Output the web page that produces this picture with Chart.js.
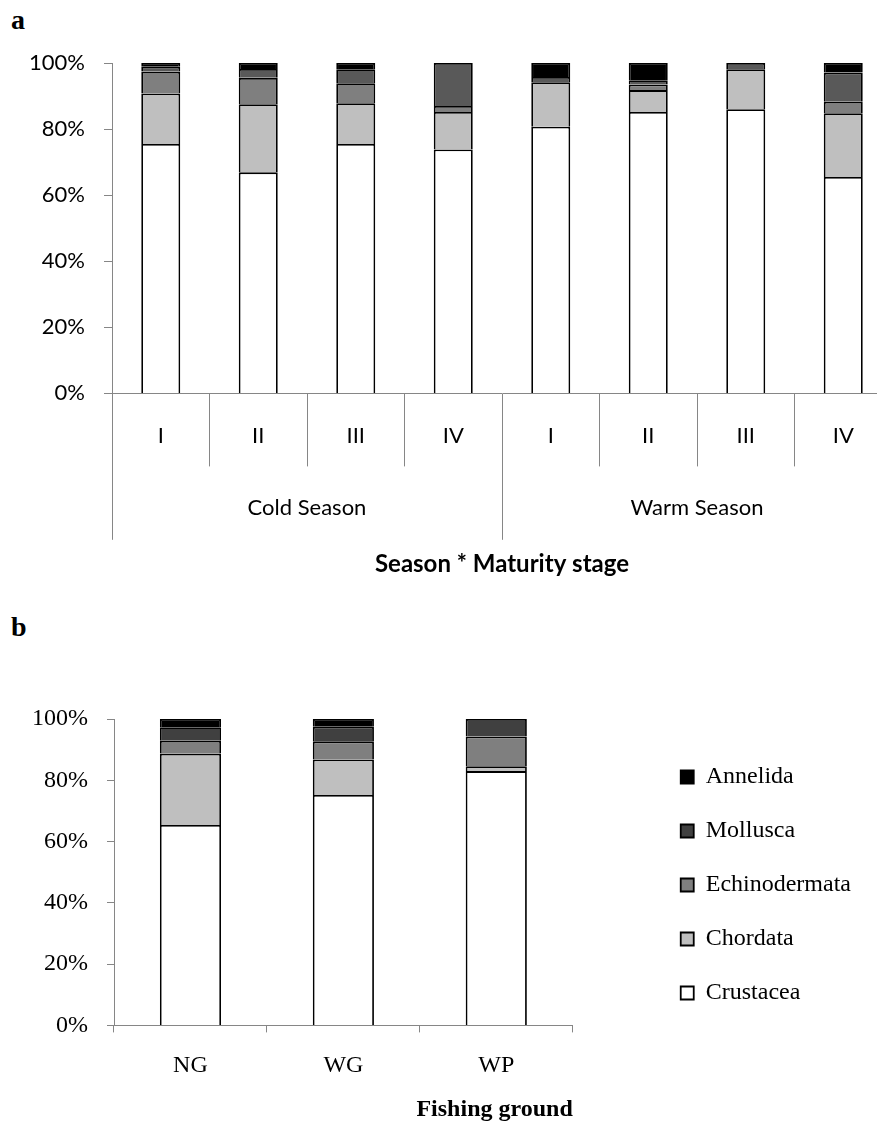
<!DOCTYPE html>
<html lang="en">
  <head>
    <meta charset="UTF-8" />
    <title>Diet composition</title>
    <script src="https://cdn.jsdelivr.net/npm/chart.js"></script>
    <style>
      body {
        margin: 0;
        width: 877px;
        height: 1124px;
        position: relative;
        overflow: hidden;
        background: #fff;
      }
      .panel-letter {
        position: absolute;
        left: 11px;
        font-family: 'Liberation Serif', serif;
        font-weight: bold;
        font-size: 28px;
        line-height: 1;
        color: #000;
      }
      #wrap-a {
        position: absolute;
        left: 0;
        top: 0;
        width: 877px;
        height: 594px;
        overflow: hidden;
      }
      #wrap-b {
        position: absolute;
        left: 0;
        top: 594px;
        width: 877px;
        height: 530px;
      }
    </style>
  </head>
  <body>
    <div class="panel-letter" style="top: 6px">a</div>
    <div id="wrap-a"><canvas id="chart-a" width="900" height="594"></canvas></div>
    <div class="panel-letter" style="top: 613px">b</div>
    <div id="wrap-b"><canvas id="chart-b" width="877" height="530"></canvas></div>
  </body>
  <script>
    // panel a: season * maturity stage (%)
    const stages = ['I', 'II', 'III', 'IV', 'I', 'II', 'III', 'IV']
    const seasons = ['Cold Season', 'Warm Season']
    const crustaceaA = [75.5, 66.9, 75.5, 73.8, 80.7, 85.2, 86.0, 65.5]
    const chordataA = [15.3, 20.6, 12.3, 11.4, 13.5, 6.6, 12.1, 19.3]
    const echinoA = [6.6, 8.0, 6.1, 1.8, 0, 1.7, 0, 3.5]
    const molluscaA = [1.5, 2.7, 4.2, 13.0, 1.6, 1.3, 1.9, 8.8]
    const annelidaA = [1.1, 1.8, 1.9, 0, 4.2, 5.2, 0, 2.9]

    // panel b: fishing ground (%)
    const grounds = ['NG', 'WG', 'WP']
    const crustaceaB = [65.4, 75.2, 83.0]
    const chordataB = [23.3, 11.6, 1.6]
    const echinoB = [4.2, 5.9, 9.7]
    const molluscaB = [4.4, 4.8, 5.7]
    const annelidaB = [2.7, 2.5, 0]

    const taxa = ['Crustacea', 'Chordata', 'Echinodermata', 'Mollusca', 'Annelida']
    const yTicks = [0, 20, 40, 60, 80, 100]

    const axisGray = '#868686'

    function makeSets(series, colors) {
      return series.map((values, i) => ({
        label: taxa[i],
        data: values,
        backgroundColor: colors[i],
        borderColor: '#000',
        borderWidth: 1.8,
        categoryPercentage: 1,
        barPercentage: 0.4,
      }))
    }

    const sans = { family: 'Lato', size: 22 }
    const serif = { family: 'Liberation Serif', size: 24 }
    // invisible title, only used to make room for the raised tick labels
    const spacerTitle = (top) => ({
      display: true,
      text: '',
      font: { size: 10 },
      padding: { top: top, bottom: 0 },
    })

    new Chart(document.getElementById('chart-a'), {
      type: 'bar',
      data: {
        labels: stages,
        datasets: makeSets(
          [crustaceaA, chordataA, echinoA, molluscaA, annelidaA],
          ['#ffffff', '#bfbfbf', '#7f7f7f', '#595959', '#000000']
        ),
      },
      options: {
        responsive: false,
        animation: false,
        layout: { padding: { top: 63, right: 8, bottom: 12, left: 0 } },
        plugins: { legend: { display: false }, tooltip: { enabled: false } },
        scales: {
          x: {
            stacked: true,
            offset: true,
            grid: {
              offset: true,
              drawOnChartArea: false,
              tickLength: 73,
              color: axisGray,
            },
            border: { color: axisGray },
            ticks: { padding: -44, color: '#000', font: sans, maxRotation: 0, autoSkip: false },
            title: spacerTitle(38),
          },
          x2: {
            type: 'category',
            labels: seasons,
            position: 'bottom',
            weight: 1,
            offset: true,
            grid: {
              offset: true,
              drawOnChartArea: false,
              tickLength: 85,
              color: axisGray,
            },
            border: { display: false },
            ticks: { padding: -45, color: '#000', font: sans, maxRotation: 0 },
            title: {
              display: true,
              text: 'Season * Maturity stage',
              color: '#000',
              font: { family: 'Lato', size: 24, weight: 'bold' },
              padding: { top: 74, bottom: 3 },
            },
          },
          y: {
            stacked: true,
            min: 0,
            max: 100,
            afterBuildTicks: (s) => {
              s.ticks = yTicks.map((v) => ({ value: v }))
            },
            ticks: {
              padding: 19,
              color: '#000',
              font: sans,
              callback: (v) => v + '%',
            },
            grid: { drawOnChartArea: false, tickLength: 8, color: axisGray },
            border: { color: axisGray },
            afterFit: (s) => {
              s.width = 112
            },
          },
        },
      },
    })

    new Chart(document.getElementById('chart-b'), {
      type: 'bar',
      data: {
        labels: grounds,
        datasets: makeSets(
          [crustaceaB, chordataB, echinoB, molluscaB, annelidaB],
          ['#ffffff', '#bfbfbf', '#7f7f7f', '#404040', '#000000']
        ),
      },
      options: {
        responsive: false,
        animation: false,
        layout: { padding: { top: 125, right: 16, bottom: 0, left: 0 } },
        plugins: {
          tooltip: { enabled: false },
          legend: {
            position: 'right',
            align: 'start',
            reverse: true,
            title: {
              display: true,
              text: '',
              font: { size: 10 },
              padding: { top: 0, bottom: 4 },
            },
            labels: {
              boxWidth: 13,
              boxHeight: 13,
              padding: 30,
              color: '#000',
              font: serif,
            },
          },
        },
        scales: {
          x: {
            stacked: true,
            grid: {
              offset: true,
              drawOnChartArea: false,
              tickLength: 7,
              color: axisGray,
            },
            border: { color: axisGray },
            ticks: { padding: 19, color: '#000', font: serif, maxRotation: 0 },
            title: {
              display: true,
              text: 'Fishing ground',
              align: 'end',
              color: '#000',
              font: { family: 'Liberation Serif', size: 24, weight: 'bold' },
              padding: { top: -4, bottom: 0 },
            },
          },
          y: {
            stacked: true,
            min: 0,
            max: 100,
            afterBuildTicks: (s) => {
              s.ticks = yTicks.map((v) => ({ value: v }))
            },
            ticks: {
              padding: 19,
              color: '#000',
              font: serif,
              callback: (v) => v + '%',
            },
            grid: { drawOnChartArea: false, tickLength: 7, color: axisGray },
            border: { color: axisGray },
            afterFit: (s) => {
              s.width = 114
            },
          },
          // hidden right axis: only keeps the gap between plot and legend
          yR: {
            position: 'right',
            display: false,
            afterFit: (s) => {
              s.width = 78
            },
          },
        },
      },
    })
  </script>
</html>
